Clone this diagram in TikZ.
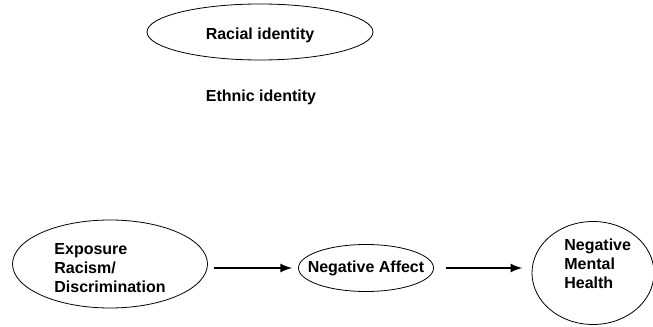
\documentclass[tikz,border=0pt]{standalone}
\usepackage{fontspec}
\setmainfont{Liberation Sans}
\usetikzlibrary{shapes.geometric, arrows, positioning}

\begin{document}
\begin{tikzpicture}[x=0.75pt, y=-0.75pt, >=latex, font=\fontsize{12}{14}\selectfont\bfseries]

        % --- styles ---
        \tikzstyle{construct} = [ellipse, draw=black, line width=0.6pt, inner sep=0pt]
        \tikzstyle{flow} = [line width=2pt, ->]

        \useasboundingbox (0,0) rectangle (653,327);

        % --- moderators ---
        \node (racial) [construct, minimum width=169.5pt, minimum height=42pt, label={[yshift=-2.5pt]center:Racial identity}] at (260,32) {};
        \node (ethnic) at (261,97) {Ethnic identity};

        % --- main path ---
        \node (exposure) [construct, minimum width=146.25pt, minimum height=66pt, label={[align=left, yshift=-3pt]center:Exposure\\Racism/\\Discrimination}] at (110,264) {};
        \node (affect) [construct, minimum width=101.25pt, minimum height=35.25pt, label=center:{Negative Affect}] at (366,268) {};
        \node (health) [construct, minimum width=91.5pt, minimum height=77.25pt, label={[align=left, xshift=3.5pt, yshift=7pt]center:Negative\\Mental\\Health}] at (593,273) {};

        % --- arrows ---
        \draw[flow, shorten <=4.5pt, shorten >=4.5pt] (affect.west -| exposure.east) -- (affect.west);
        \draw[flow, shorten <=9pt, shorten >=7pt] (affect.east) -- (affect.east -| health.west);

        \end{tikzpicture}
\end{document}
